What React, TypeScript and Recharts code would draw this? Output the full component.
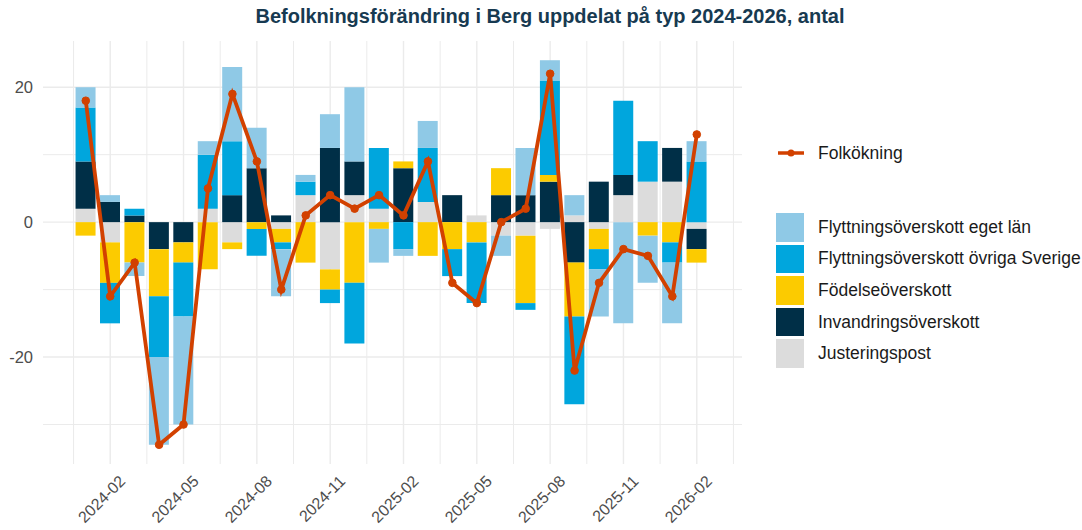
import { ComposedChart, Bar, Line, XAxis, YAxis, CartesianGrid } from 'recharts';

const months = [
  '2024-01', '2024-02', '2024-03', '2024-04', '2024-05', '2024-06', '2024-07', '2024-08', '2024-09', '2024-10', '2024-11', '2024-12',
  '2025-01', '2025-02', '2025-03', '2025-04', '2025-05', '2025-06', '2025-07', '2025-08', '2025-09', '2025-10', '2025-11', '2025-12',
  '2026-01', '2026-02',
];

const tickMonths = ['2024-02', '2024-05', '2024-08', '2024-11', '2025-02', '2025-05', '2025-08', '2025-11', '2026-02'];

const justering = [2, -3, 0, 0, 0, 2, -3, 0, -1, 4, -7, 4, 2, 0, 3, 0, 1, -2, -2, -1, 1, -1, 4, 6, 6, -1];
const invandring = [7, 3, 1, -4, -3, 0, 4, 8, 1, 0, 11, 5, 0, 8, 0, 4, 0, 4, 4, 6, -6, 6, 3, 0, 5, -3];
const fodelse = [-2, -6, -6, -7, -3, -7, -1, -1, -2, -6, -3, -9, -1, 1, -5, -4, -3, 4, -10, 1, -8, -3, 0, -2, -3, -2];
const ovrigaSverige = [8, -6, 1, -9, -8, 8, 8, -4, -1, 2, -2, -9, 9, -4, 8, -4, -9, 0, -1, 14, -13, -3, 11, 6, -3, 9];
const egetLan = [3, 1, -2, -13, -16, 2, 11, 6, -7, 1, 5, 11, -5, -1, 4, 0, 0, -3, 7, 3, 3, -7, -15, -7, -9, 3];
const folkokning = [18, -11, -6, -33, -30, 5, 19, 9, -10, 1, 4, 2, 4, 1, 9, -9, -12, 0, 2, 22, -22, -9, -4, -5, -11, 13];

const yTicks = [-20, 0, 20];
const yMinor = [-30, -10, 10];

const COLORS = {
  egetLan: '#8FC9E6',
  ovriga: '#00A6DD',
  fodelse: '#FCCB00',
  invandring: '#002F47',
  justering: '#DCDCDC',
  line: '#D24100',
  grid: '#EBEBEB',
};

const data = months.map((m, i) => ({
  idx: i,
  month: m,
  justering: justering[i],
  invandring: invandring[i],
  fodelse: fodelse[i],
  ovriga: ovrigaSverige[i],
  egetLan: egetLan[i],
  folkokning: folkokning[i],
}));

const xDomain: [number, number] = [-1.75, 26.85];
const yDomain: [number, number] = [-35.85, 26.85];
const xTicks = tickMonths.map((m) => months.indexOf(m));
const xMinor = [-0.5, ...xTicks.map((t) => t + 1.5)];

// grid positions in data units -> pixels inside the plot area
const gridX = (vals: number[]) => ({ offset }: any) =>
  vals.map((v) => offset.left + ((v - xDomain[0]) / (xDomain[1] - xDomain[0])) * offset.width);
const gridY = (vals: number[]) => ({ offset }: any) =>
  vals.map((v) => offset.top + ((yDomain[1] - v) / (yDomain[1] - yDomain[0])) * offset.height);

const FONT = '"Liberation Sans", Arial, sans-serif';

const XTick = ({ x, y, payload }: any) => {
  const tx = x + 8;
  const ty = y + 2;
  return (
    <text
      x={tx}
      y={ty}
      dy="0.72em"
      textAnchor="end"
      fontSize={16}
      fill="#4D4D4D"
      fontFamily={FONT}
      transform={`rotate(-45 ${tx} ${ty})`}
    >
      {months[payload.value]}
    </text>
  );
};

const legendBars = [
  { label: 'Flyttningsöverskott eget län', color: COLORS.egetLan },
  { label: 'Flyttningsöverskott övriga Sverige', color: COLORS.ovriga },
  { label: 'Födelseöverskott', color: COLORS.fodelse },
  { label: 'Invandringsöverskott', color: COLORS.invandring },
  { label: 'Justeringspost', color: COLORS.justering },
];

export default function App() {
  return (
    <div style={{ position: 'fixed', left: 0, top: 0, width: 1082, height: 530, background: '#fff', fontFamily: FONT }}>
      <div
        style={{
          position: 'absolute',
          top: 5,
          left: 0,
          width: 1100,
          textAlign: 'center',
          fontWeight: 'bold',
          fontSize: 20,
          color: '#173A51',
        }}
      >
        Befolkningsförändring i Berg uppdelat på typ 2024-2026, antal
      </div>
      <ComposedChart
        width={1082}
        height={530}
        data={data}
        stackOffset="sign"
        margin={{ top: 41, right: 340, bottom: 0, left: 0 }}
      >
        <CartesianGrid
          stroke={COLORS.grid}
          strokeWidth={1}
          verticalCoordinatesGenerator={gridX(xMinor)}
          horizontalCoordinatesGenerator={gridY(yMinor)}
        />
        <CartesianGrid
          stroke={COLORS.grid}
          strokeWidth={1.4}
          verticalCoordinatesGenerator={gridX(xTicks)}
          horizontalCoordinatesGenerator={gridY(yTicks)}
        />
        <XAxis
          dataKey="idx"
          type="number"
          domain={xDomain}
          allowDataOverflow
          ticks={xTicks}
          interval={0}
          axisLine={false}
          tickLine={false}
          tick={<XTick />}
          height={66}
        />
        <YAxis
          type="number"
          domain={yDomain}
          allowDataOverflow
          ticks={yTicks}
          axisLine={false}
          tickLine={false}
          width={43}
          tickSize={8}
          tickMargin={2}
          tick={{ fontSize: 16.5, fill: '#4D4D4D', fontFamily: FONT }}
        />
        <Bar dataKey="justering" stackId="a" fill={COLORS.justering} barSize={20} isAnimationActive={false} />
        <Bar dataKey="invandring" stackId="a" fill={COLORS.invandring} barSize={20} isAnimationActive={false} />
        <Bar dataKey="fodelse" stackId="a" fill={COLORS.fodelse} barSize={20} isAnimationActive={false} />
        <Bar dataKey="ovriga" stackId="a" fill={COLORS.ovriga} barSize={20} isAnimationActive={false} />
        <Bar dataKey="egetLan" stackId="a" fill={COLORS.egetLan} barSize={20} isAnimationActive={false} />
        <Line
          dataKey="folkokning"
          stroke={COLORS.line}
          strokeWidth={3.8}
          dot={{ r: 3.8, fill: COLORS.line, stroke: COLORS.line, strokeWidth: 1 }}
          isAnimationActive={false}
        />
      </ComposedChart>

      <div style={{ position: 'absolute', left: 778, top: 143, height: 20, display: 'flex', alignItems: 'center' }}>
        <svg width={26} height={20}>
          <line x1={0} y1={10} x2={26} y2={10} stroke={COLORS.line} strokeWidth={3.5} />
          <circle cx={13} cy={10} r={3.5} fill={COLORS.line} />
        </svg>
        <span style={{ marginLeft: 14, fontSize: 17.5, color: '#1A1A1A' }}>Folkökning</span>
      </div>

      {legendBars.map((item, i) => (
        <div
          key={item.label}
          style={{
            position: 'absolute',
            left: 776,
            top: 213 + i * 31.6,
            height: 28.5,
            display: 'flex',
            alignItems: 'center',
          }}
        >
          <div style={{ width: 28, height: 28.5, background: item.color }} />
          <span style={{ marginLeft: 14, fontSize: 17.5, color: '#1A1A1A' }}>{item.label}</span>
        </div>
      ))}
    </div>
  );
}
